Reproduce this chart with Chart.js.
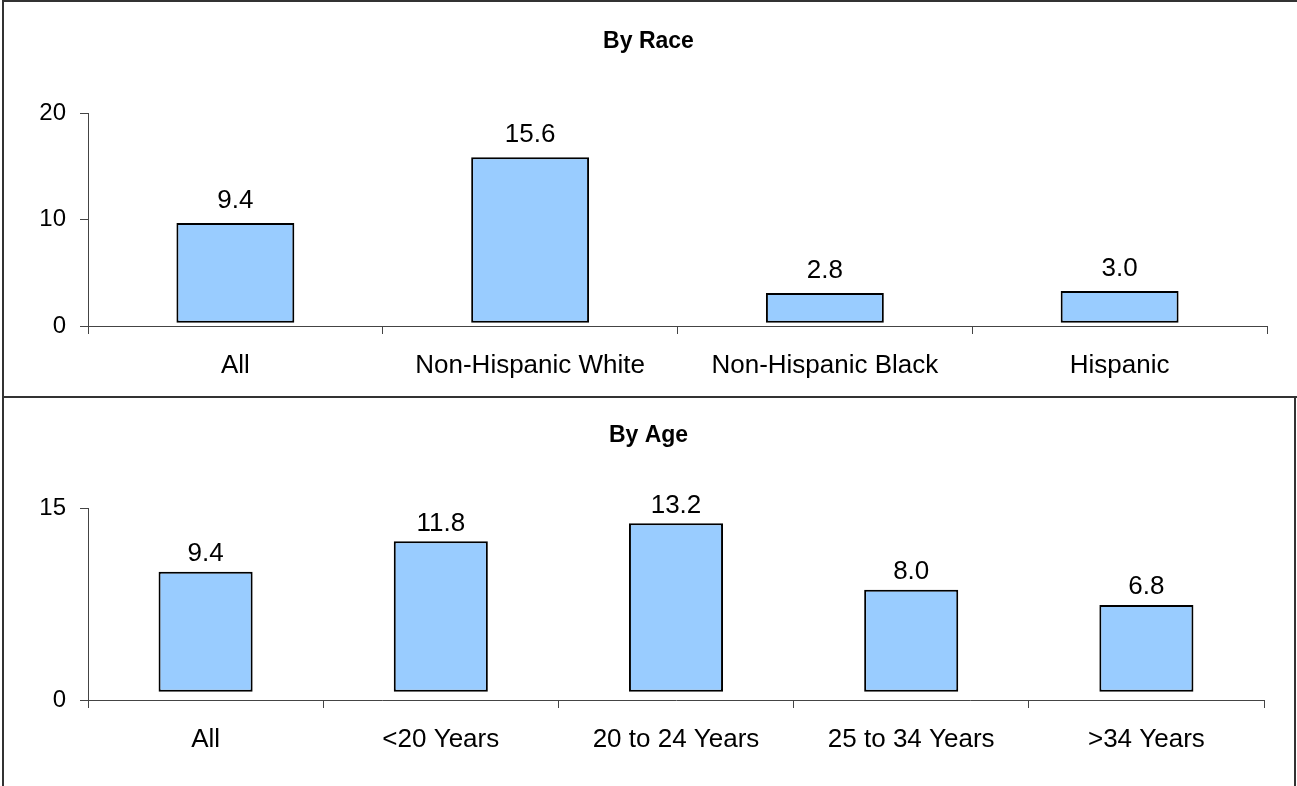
<!DOCTYPE html>
<html>
<head>
<meta charset="utf-8">
<title>By Race / By Age</title>
<script src="https://cdn.jsdelivr.net/npm/chart.js@4/dist/chart.umd.min.js"></script>
<style>
  body { margin: 0; background: #fff; overflow: hidden; }
  #page { position: relative; width: 1297px; height: 786px; overflow: hidden; }
  .box { position: absolute; box-sizing: border-box; }
  #boxTop { left: 2px; top: 0; width: 1400px; height: 398px; border: 2px solid #333; border-right: none; }
  #boxBottom { left: 2px; top: 396px; width: 1294px; height: 500px; border: 2px solid #333; }
  canvas { position: absolute; left: 0; }
  #raceChart { top: 0; }
  #ageChart { top: 396px; }
</style>
</head>
<body>
<div id="page">
  <div class="box" id="boxTop"></div>
  <div class="box" id="boxBottom"></div>
  <canvas id="raceChart" width="1297" height="396"></canvas>
  <canvas id="ageChart" width="1297" height="390"></canvas>
</div>
<script>
// Daten
var raceLabels = ["All", "Non-Hispanic White", "Non-Hispanic Black", "Hispanic"];
var raceValues = [9.4, 15.6, 2.8, 3.0];
var raceTicks = [0, 10, 20];

var ageLabels = ["All", "<20 Years", "20 to 24 Years", "25 to 34 Years", ">34 Years"];
var ageValues = [9.4, 11.8, 13.2, 8.0, 6.8];
var ageTicks = [0, 15];

// the bars in the original float a little above the axis
var raceBase = 0.3;
var ageBase = 0.65;

var fontFamily = "'Liberation Sans', Arial, Helvetica, sans-serif";

// value labels above each bar
var valueLabels = {
  id: 'valueLabels',
  afterDatasetsDraw: function(chart, args, opts) {
    var ctx = chart.ctx;
    var meta = chart.getDatasetMeta(0);
    var values = chart.data.datasets[0].values;
    ctx.save();
    ctx.font = "26px " + fontFamily;
    ctx.fillStyle = "#000";
    ctx.textAlign = "center";
    ctx.textBaseline = "alphabetic";
    for (var i = 0; i < meta.data.length; i++) {
      var bar = meta.data[i];
      ctx.fillText(values[i].toFixed(1), bar.x, bar.y - opts.offset);
    }
    ctx.restore();
  }
};

function makeChart(id, title, labels, values, base, ticks, cfg) {
  var data = [];
  for (var i = 0; i < values.length; i++) {
    data.push([base, base + values[i]]);
  }
  var ctx = document.getElementById(id).getContext("2d");
  return new Chart(ctx, {
    type: 'bar',
    data: {
      labels: labels,
      datasets: [{
        data: data,
        values: values,
        backgroundColor: '#99CCFF',
        borderColor: '#000',
        borderWidth: 2,
        borderSkipped: false,
        categoryPercentage: 1.0,
        barPercentage: 0.4
      }]
    },
    plugins: [valueLabels],
    options: {
      responsive: false,
      animation: false,
      events: [],
      layout: { padding: 0 },
      plugins: {
        legend: { display: false },
        tooltip: { enabled: false },
        title: {
          display: true,
          text: title,
          color: '#000',
          font: { family: fontFamily, size: 23, weight: 'bold', lineHeight: 1.2 },
          padding: { top: cfg.titleTop, bottom: cfg.titleBottom }
        },
        valueLabels: { offset: cfg.labelOffset }
      },
      scales: {
        x: {
          offset: true,
          grid: { display: true, offset: true, drawOnChartArea: false, drawTicks: true, tickLength: 8, color: '#444' },
          border: { display: true, color: '#444', width: 1 },
          ticks: {
            color: '#000',
            autoSkip: false,
            maxRotation: 0,
            padding: 16,
            font: { family: fontFamily, size: 26 }
          },
          afterFit: function(scale) { scale.height = cfg.xHeight; }
        },
        y: {
          min: ticks[0],
          max: ticks[ticks.length - 1],
          afterBuildTicks: function(scale) {
            scale.ticks = ticks.map(function(v) { return { value: v }; });
          },
          grid: { display: true, drawOnChartArea: false, drawTicks: true, tickLength: 8, color: '#444' },
          border: { display: true, color: '#444', width: 1 },
          ticks: {
            color: '#000',
            padding: 14,
            font: { family: fontFamily, size: 24 }
          },
          afterFit: function(scale) { scale.width = 88; }
        },
        // empty axis on the right, only keeps space so the title stays centred on the panel
        yRight: {
          position: 'right',
          display: true,
          grid: { display: false },
          border: { display: false },
          ticks: { display: false },
          afterFit: function(scale) { scale.width = cfg.right; }
        }
      }
    }
  });
}

makeChart("raceChart", "By Race", raceLabels, raceValues, raceBase, raceTicks,
  { right: 30, titleTop: 28, titleBottom: 58, xHeight: 70, labelOffset: 15 });
makeChart("ageChart", "By Age", ageLabels, ageValues, ageBase, ageTicks,
  { right: 33, titleTop: 26, titleBottom: 59, xHeight: 86, labelOffset: 10.5 });
</script>
</body>
</html>
